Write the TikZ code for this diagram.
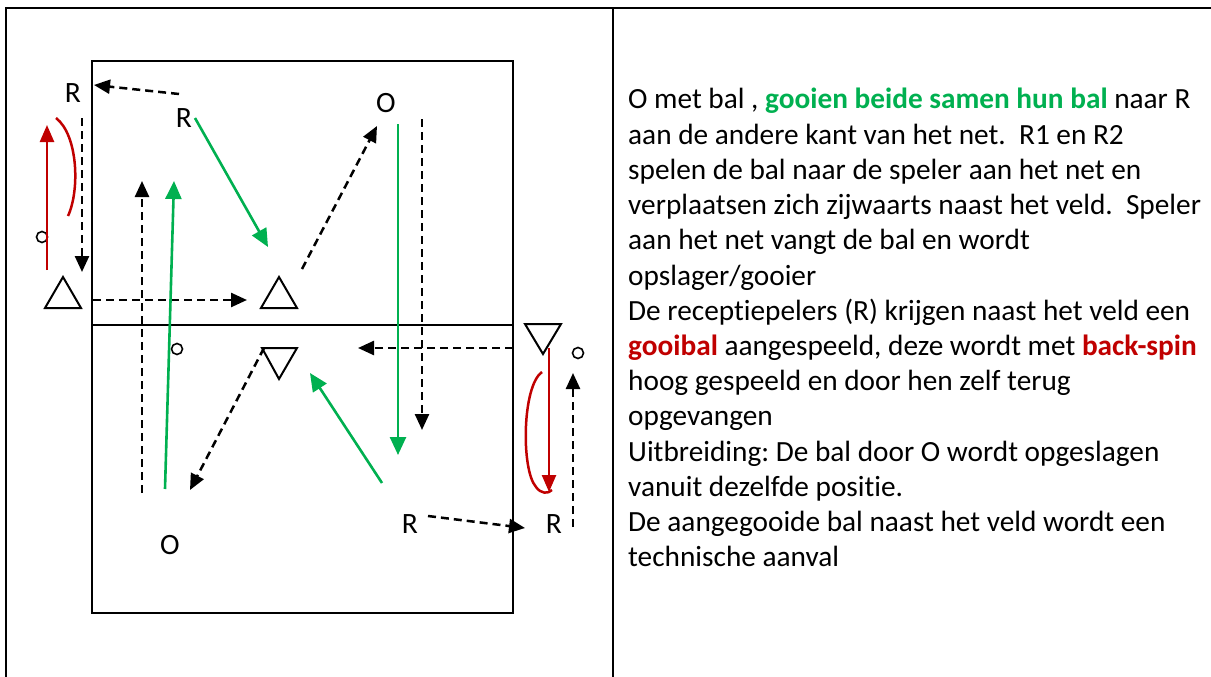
\documentclass[tikz,border=0pt]{standalone}
\usepackage{fontspec}
\setmainfont{Carlito}[Ligatures=NoCommon]
\usetikzlibrary{arrows.meta}
\definecolor{grn}{HTML}{00B050}
\definecolor{rd}{HTML}{C00000}
\frenchspacing
\begin{document}
\begin{tikzpicture}[x=1pt,y=-1pt,
  frame/.style={line width=2.2pt},
  court/.style={line width=1.8pt},
  tri/.style={line width=2pt, line join=miter},
  mv/.style={line width=2.5pt, dash pattern=on 8pt off 5pt, -{Triangle[length=16pt,width=14pt]}},
  pass/.style={line width=2.6pt, grn, -{Triangle[length=18pt,width=16pt]}},
  spin/.style={line width=2.5pt, rd, -{Triangle[length=17pt,width=14pt]}},
  spinarc/.style={line width=2.5pt, rd},
  lbl/.style={font=\fontsize{29.5}{34}\selectfont, inner sep=0pt},
  txt/.style={font=\fontsize{29.3}{35.2}\selectfont, inner sep=0pt, anchor=base west},
  ball/.style={circle, draw, line width=1.6pt, minimum size=11pt, inner sep=0pt}]
\useasboundingbox (0,0) rectangle (1211,677);
% outer table frame
\draw[frame] (6,677) -- (6,8) -- (1211,8);
\draw[frame] (613,8) -- (613,677);
% court and net
\draw[court] (92,61) rectangle (513,613);
\draw[court] (92,325) -- (513,325);
% triangles (players)
\draw[tri] (45,308) -- (63,277) -- (81,308) -- cycle;
\draw[tri] (261,308) -- (279,277) -- (297,308) -- cycle;
\draw[tri] (262,348) -- (297,348) -- (279,379) -- cycle;
\draw[tri] (525,324) -- (561,324) -- (543,354) -- cycle;
% balls
\node[ball] (b1) at (42,237) {};
\node[ball] (b2) at (177,349) {};
\node[ball] (b3) at (578,353) {};
% labels
\node[lbl] (Rtl) at (73,93) {R};
\node[lbl] (Rin) at (184,118) {R};
\node[lbl] (Otop) at (386,103) {O};
\node[lbl] (Obot) at (170,545) {O};
\node[lbl] (Rbi) at (410,524) {R};
\node[lbl] (Rbr) at (554,524) {R};
% coordinates for connectors
\coordinate (d1s) at (179,94);  \coordinate (d1e) at (94,85);
\coordinate (d2s) at (82,118);  \coordinate (d2e) at (82,272);
\coordinate (d3s) at (93,300);  \coordinate (d3e) at (247,300);
\coordinate (d4s) at (142,493); \coordinate (d4e) at (142,181);
\coordinate (d5s) at (302,269); \coordinate (d5e) at (377,126);
\coordinate (d6s) at (422,119); \coordinate (d6e) at (422,430);
\coordinate (d7s) at (513,348); \coordinate (d7e) at (358,348);
\coordinate (d8s) at (264,348); \coordinate (d8e) at (190,490);
\coordinate (d9s) at (428,516); \coordinate (d9e) at (525,528);
\coordinate (d10s) at (573,527); \coordinate (d10e) at (573,373);
\coordinate (g1s) at (195,118); \coordinate (g1e) at (268,247);
\coordinate (g2s) at (165,489); \coordinate (g2e) at (174,181);
\coordinate (g3s) at (398,124); \coordinate (g3e) at (398,455);
\coordinate (g4s) at (382,483); \coordinate (g4e) at (310,373);
\coordinate (r1s) at (47,270);  \coordinate (r1e) at (47,125);
\coordinate (r2s) at (549,348); \coordinate (r2e) at (549,492);
% black dashed movements
\draw[mv] (d1s) -- (d1e);
\draw[mv] (d2s) -- (d2e);
\draw[mv] (d3s) -- (d3e);
\draw[mv] (d4s) -- (d4e);
\draw[mv] (d5s) -- (d5e);
\draw[mv] (d6s) -- (d6e);
\draw[mv] (d7s) -- (d7e);
\draw[mv] (d8s) -- (d8e);
\draw[mv] (d9s) -- (d9e);
\draw[mv] (d10s) -- (d10e);
% green passes
\draw[pass] (g1s) -- (g1e);
\draw[pass] (g2s) -- (g2e);
\draw[pass] (g3s) -- (g3e);
\draw[pass] (g4s) -- (g4e);
% red back-spin throws
\draw[spin] (r1s) -- (r1e);
\draw[spin] (r2s) -- (r2e);
\draw[spinarc] (56,118) .. controls (78,135) and (80,190) .. (68,216);
\draw[spinarc] (542,372) .. controls (522,386) and (521,470) .. (536,487) .. controls (541,494) and (548,494) .. (552,490);
% description text
\node[txt] (t1) at (628,109.0) {O met bal , {\color{grn}\bfseries gooien beide samen hun bal} naar R};
\node[txt] (t2) at (628,144.2) {aan de andere kant van het net.~ R1 en R2};
\node[txt] (t3) at (628,179.4) {spelen de bal naar de speler aan het net en};
\node[txt] (t4) at (628,214.6) {verplaatsen zich zijwaarts naast het veld.~ Speler};
\node[txt] (t5) at (628,249.8) {aan het net vangt de bal en wordt};
\node[txt] (t6) at (628,285.0) {opslager/gooier};
\node[txt] (t7) at (628,320.2) {De receptiepelers (R) krijgen naast het veld een};
\node[txt] (t8) at (628,355.4) {{\color{rd}\bfseries gooibal} aangespeeld, deze wordt met {\color{rd}\bfseries back-spin}};
\node[txt] (t9) at (628,390.6) {hoog gespeeld en door hen zelf terug};
\node[txt] (t10) at (628,425.8) {opgevangen};
\node[txt] (t11) at (628,461.0) {Uitbreiding: De bal door O wordt opgeslagen};
\node[txt] (t12) at (628,496.2) {vanuit dezelfde positie.};
\node[txt] (t13) at (628,531.4) {De aangegooide bal naast het veld wordt een};
\node[txt] (t14) at (628,566.6) {technische aanval};
\end{tikzpicture}
\end{document}
